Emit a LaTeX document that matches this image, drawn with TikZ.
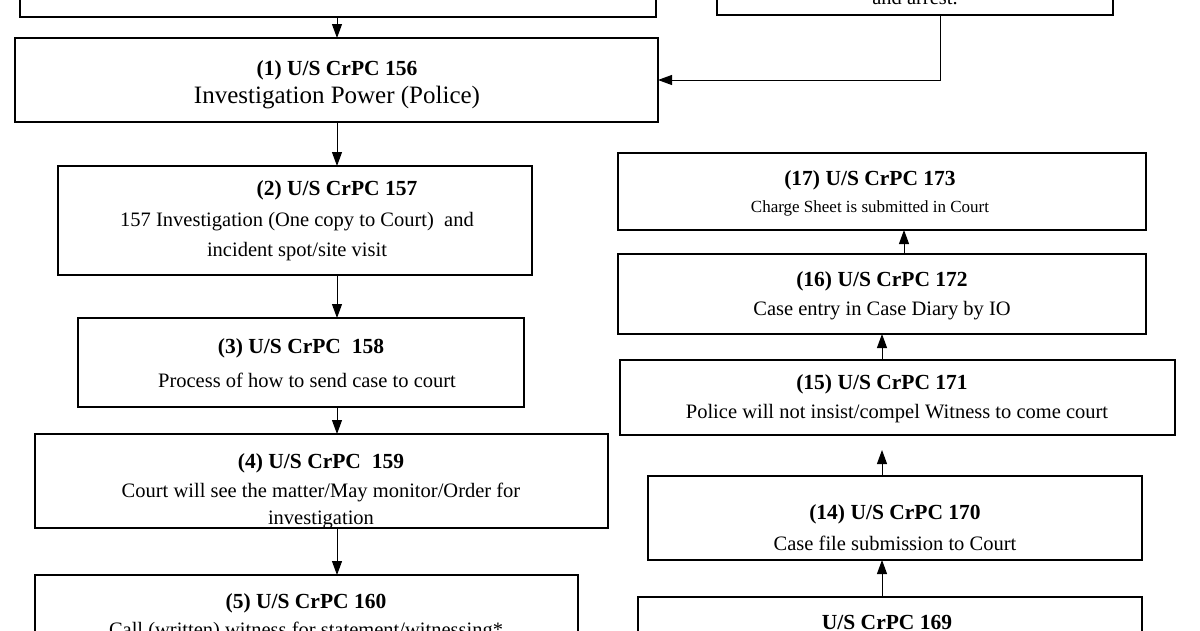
\documentclass[tikz,border=0pt]{standalone}
\usepackage{fontspec}
\setmainfont{Liberation Serif}
\usetikzlibrary{arrows.meta}
\begin{document}
\begin{tikzpicture}[x=1pt,y=-1pt,
  box/.style={draw,line width=1.3pt,fill=white},
  arr/.style={-{Triangle[length=14pt,width=10pt]},line width=1pt},
  hd/.style={font=\fontsize{21.5}{23}\selectfont\bfseries,inner sep=0pt},
  tx/.style={font=\fontsize{20.5}{22}\selectfont,inner sep=0pt},
  sm/.style={font=\fontsize{17}{19}\selectfont,inner sep=0pt}]
\useasboundingbox (0,0) rectangle (1200,630);
\clip (0,0) rectangle (1200,630);
% top boxes
\draw[box] (20,-20) rectangle (656,17);
\draw[box] (717,-20) rectangle (1113,15);
\node[tx] (t0) at (915,-2) {and arrest.};
\coordinate (tl) at (337,17);
\coordinate (tr) at (940,15);
% left chain
\draw[box] (15,38) rectangle (658,122);
\node[hd] (h1) at (337,70) {(1) U/S CrPC 156};
\node[font=\fontsize{25}{27}\selectfont,inner sep=0pt] (b1) at (337,98) {Investigation Power (Police)};
\coordinate (b1t) at (337,38); \coordinate (b1b) at (337,122); \coordinate (b1r) at (658,80);
\draw[box] (58,166) rectangle (532,275);
\node[hd] (h2) at (337,190) {(2) U/S CrPC 157};
\node[tx] (l2a) at (297,222) {157 Investigation (One copy to Court)\ \ and};
\node[tx] (l2b) at (297,252) {incident spot/site visit};
\coordinate (b2t) at (337,166); \coordinate (b2b) at (337,275);
\draw[box] (78,318) rectangle (524,407);
\node[hd] (h3) at (301,348) {(3) U/S CrPC\ \ 158};
\node[tx] (l3) at (307,380) {Process of how to send case to court};
\coordinate (b3t) at (337,318); \coordinate (b3b) at (337,407);
\draw[box] (35,434) rectangle (608,528);
\node[hd] (h4) at (321,463) {(4) U/S CrPC\ \ 159};
\node[tx] (l4a) at (321,492) {Court will see the matter/May monitor/Order for};
\node[tx] (l4b) at (321,520) {investigation};
\coordinate (b4t) at (337,434); \coordinate (b4b) at (337,528);
\draw[box] (35,575) rectangle (578,660);
\node[hd] (h5) at (306,603) {(5) U/S CrPC 160};
\node[tx] (l5) at (306,631) {Call (written) witness for statement/witnessing*};
\coordinate (b5t) at (337,575);
% right chain
\draw[box] (618,153) rectangle (1146,230);
\node[hd] (h17) at (870,180) {(17) U/S CrPC 173};
\node[sm] (l17) at (870,208) {Charge Sheet is submitted in Court};
\coordinate (b17b) at (904,230);
\draw[box] (618,254) rectangle (1146,334);
\node[hd] (h16) at (882,281) {(16) U/S CrPC 172};
\node[tx] (l16) at (882,311) {Case entry in Case Diary by IO};
\coordinate (b16t) at (904,254); \coordinate (b16b) at (882,334);
\draw[box] (620,360) rectangle (1175,435);
\node[hd] (h15) at (882,384) {(15) U/S CrPC 171};
\node[tx] (l15) at (897,414) {Police will not insist/compel Witness to come court};
\coordinate (b15t) at (882,360); \coordinate (b15b) at (882,450);
\draw[box] (648,476) rectangle (1142,560);
\node[hd] (h14) at (895,514) {(14) U/S CrPC 170};
\node[tx] (l14) at (895,543) {Case file submission to Court};
\coordinate (b14t) at (882,476); \coordinate (b14b) at (882,560);
\draw[box] (638,597) rectangle (1142,660);
\node[hd] (h13) at (887,622) {U/S CrPC 169};
\coordinate (b13t) at (882,597);
% arrows
\draw[arr] (tl) -- (b1t);
\draw[arr] (tr) |- (b1r);
\draw[arr] (b1b) -- (b2t);
\draw[arr] (b2b) -- (b3t);
\draw[arr] (b3b) -- (b4t);
\draw[arr] (b4b) -- (b5t);
\draw[arr] (b16t) -- (b17b);
\draw[arr] (b15t) -- (b16b);
\draw[arr] (b14t) -- (b15b);
\draw[arr] (b13t) -- (b14b);
\end{tikzpicture}
\end{document}
